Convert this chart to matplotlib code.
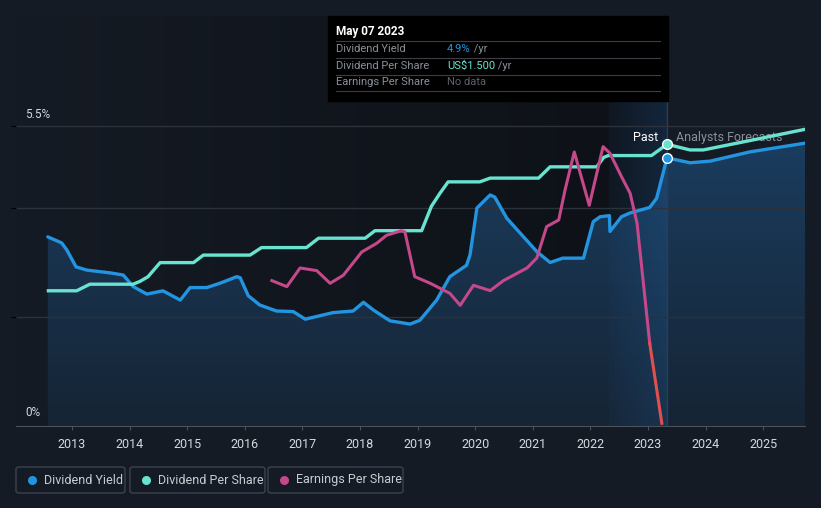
import matplotlib.pyplot as plt
import matplotlib.colors as mcolors
from matplotlib.patches import FancyBboxPatch, Rectangle
import numpy as np

plt.rcParams['font.family'] = ['Roboto', 'DejaVu Sans']

# Dividend yield (%)
dy_year = [2012.58, 2012.82, 2012.91, 2013.07, 2013.26, 2013.66, 2013.89, 2014.06, 2014.30,
           2014.58, 2014.88, 2015.05, 2015.34, 2015.57, 2015.86, 2015.92, 2016.06, 2016.26,
           2016.55, 2016.84, 2016.96, 2017.05, 2017.53, 2017.88, 2018.06, 2018.23, 2018.52,
           2018.87, 2019.04, 2019.33, 2019.56, 2019.85, 2019.91, 2020.03, 2020.26, 2020.34,
           2020.55, 2020.78, 2021.07, 2021.30, 2021.52, 2021.88, 2022.05, 2022.17, 2022.33,
           2022.34, 2022.54, 2022.69, 2023.03, 2023.15, 2023.33, 2023.73, 2024.08, 2024.77,
           2025.73]
dy_val = [3.47, 3.36, 3.23, 2.92, 2.86, 2.81, 2.77, 2.56, 2.42,
          2.48, 2.31, 2.54, 2.54, 2.62, 2.74, 2.72, 2.39, 2.22,
          2.11, 2.10, 2.02, 1.96, 2.08, 2.11, 2.27, 2.13, 1.93,
          1.87, 1.94, 2.31, 2.74, 2.95, 3.14, 4.00, 4.24, 4.20,
          3.81, 3.54, 3.20, 3.00, 3.08, 3.08, 3.75, 3.84, 3.86,
          3.57, 3.84, 3.91, 4.01, 4.18, 4.92, 4.83, 4.86, 5.03,
          5.19]

# Dividend per share (US$)
dps_year = [2012.59, 2013.08, 2013.31, 2014.06, 2014.18, 2014.32, 2014.53, 2015.11, 2015.28,
            2016.09, 2016.29, 2017.07, 2017.28, 2018.09, 2018.26, 2019.07, 2019.24, 2019.39,
            2019.53, 2020.08, 2020.26, 2021.10, 2021.30, 2022.11, 2022.23, 2022.31, 2023.06,
            2023.33, 2023.73, 2023.96, 2024.77, 2025.73]
dps_val = [0.72, 0.72, 0.755, 0.755, 0.77, 0.795, 0.87, 0.87, 0.91,
           0.91, 0.95, 0.95, 1.00, 1.00, 1.04, 1.04, 1.17, 1.24,
           1.30, 1.30, 1.32, 1.32, 1.38, 1.38, 1.43, 1.44, 1.44,
           1.50, 1.47, 1.47, 1.52, 1.58]

# Earnings per share (US$)
eps_year = [2016.47, 2016.73, 2016.96, 2017.25, 2017.48, 2017.71, 2018.03, 2018.29, 2018.46,
            2018.72, 2018.78, 2018.95, 2019.22, 2019.56, 2019.74, 2019.97, 2020.26, 2020.49,
            2020.90, 2021.07, 2021.24, 2021.45, 2021.56, 2021.72, 2021.98, 2022.22, 2022.34,
            2022.54, 2022.69, 2022.81, 2023.03, 2023.24]
eps_val = [0.94, 0.85, 1.13, 1.09, 0.90, 1.02, 1.37, 1.50, 1.62,
           1.69, 1.67, 1.00, 0.90, 0.75, 0.57, 0.87, 0.79, 0.94,
           1.13, 1.28, 1.75, 1.85, 2.30, 2.87, 2.07, 2.95, 2.85,
           2.50, 2.25, 1.80, 0.00, -1.20]

years = list(range(2013, 2026))
now = 2023.33
band_start = 2022.32

BG = '#151b24'
BLUE = '#2394e0'
TEAL = '#68e3cf'
PINK = '#c4488a'
RED = '#e0504f'

fig = plt.figure(figsize=(8.21, 5.08), dpi=100, facecolor=BG)
W, H = 821, 508


def fx(px):
    return px / W


def fy(py):
    return 1 - py / H


ax = fig.add_axes([fx(16), fy(426), fx(805 - 16), (426 - 16) / H])
ax.set_facecolor(BG)
xmin, xmax = 2013 + (16 - 72) / 57.6, 2013 + (805 - 72) / 57.6
ax.set_xlim(xmin, xmax)
ax.set_ylim(0, 410 / 54.5)

# darker past region with horizontal gradient
grad = np.linspace(0, 1, 256).reshape(1, -1)
cmap_past = mcolors.LinearSegmentedColormap.from_list('p', [BG, '#0e1218'])
ax.imshow(grad, extent=[xmin, band_start, 0, 410 / 54.5], aspect='auto', cmap=cmap_past, zorder=0)
ax.axvspan(band_start, now, color='#0f141c', zorder=0)

# fill under dividend yield with vertical gradient
top = max(dy_val)
vgrad = np.linspace(1, 0, 256).reshape(-1, 1)
cmap_fill = mcolors.LinearSegmentedColormap.from_list('f', ['#162434', '#1a3c5e'])
im = ax.imshow(vgrad, extent=[xmin, xmax, 0, top], aspect='auto', cmap=cmap_fill, zorder=1)
poly = ax.fill_between(dy_year, 0, dy_val, color='none', zorder=1)
im.set_clip_path(poly.get_paths()[0], transform=ax.transData)

# highlighted last-year band
cmap_band = mcolors.LinearSegmentedColormap.from_list('b', [(0.15, 0.45, 0.75, 0.04), (0.15, 0.45, 0.75, 0.2)])
ax.imshow(grad, extent=[band_start, now, 0, 410 / 54.5], aspect='auto', cmap=cmap_band, zorder=1.5)

ax.set_yticks([2, 4, 5.5])
ax.yaxis.grid(True, color='#2c323c', lw=1)
ax.set_axisbelow(False)
for gl in ax.get_ygridlines():
    gl.set_zorder(1.6)
ax.tick_params(axis='y', left=False, labelleft=False)
ax.set_xticks(years)
ax.set_xticklabels([str(y) for y in years], color='#d6d9de', fontsize=9)
ax.tick_params(axis='x', length=3, color='#4a515c', pad=6)
for s in ['top', 'right', 'left']:
    ax.spines[s].set_visible(False)
ax.spines['bottom'].set_color('#4a515c')

ax.text(xmin + 0.16, 5.5 + 0.1, '5.5%', color='#d6d9de', fontsize=8.5, va='bottom')
ax.text(xmin + 0.16, 0.12, '0%', color='#d6d9de', fontsize=8.5, va='bottom')

ax.plot(dy_year, dy_val, color=BLUE, lw=2.4, solid_joinstyle='round', solid_capstyle='round', zorder=4)

ax2 = ax.twinx()
ax2.set_ylim(0, 410 * 1.5 / 281.7)
ax2.axis('off')
ax2.plot(dps_year, dps_val, color=TEAL, lw=2.4, solid_joinstyle='round', zorder=4)

ax3 = ax.twinx()
ax3.set_ylim(-82.7 * 0.015, (410 - 82.7) * 0.015)
ax3.axis('off')
pos = [i for i, v in enumerate(eps_val) if v >= 0]
ax3.plot(eps_year[:pos[-1] + 1], eps_val[:pos[-1] + 1], color=PINK, lw=2.2, solid_joinstyle='round', zorder=3)
ax3.plot(eps_year[pos[-1]:], eps_val[pos[-1]:], color=RED, lw=2.2, zorder=3)

# now line and markers
ax.axvline(now, color='#2a3f55', lw=1, zorder=2)
ax2.plot([now], [1.50], 'o', ms=7, color=TEAL, mec='white', mew=1, zorder=6)
ax.plot([now], [4.92], 'o', ms=7, color=BLUE, mec='white', mew=1, zorder=6)
ax.text(now - 0.15, 5.3, 'Past', color='white', fontsize=9, ha='right', va='center', zorder=7)
ax.text(now + 0.15, 5.3, 'Analysts Forecasts', color='#8a9099', fontsize=9, ha='left', va='center', zorder=7)

# tooltip
fig.patches.append(Rectangle((fx(328), fy(101)), fx(668 - 328), (101 - 16) / H,
                             transform=fig.transFigure, color='#000000', zorder=10))
fig.text(fx(336), fy(31), 'May 07 2023', color='white', fontsize=8.5, fontweight='bold', va='center', zorder=11)
for ly in [41, 58, 74.5, 91]:
    fig.add_artist(plt.Line2D([fx(336), fx(660)], [fy(ly), fy(ly)], color='#3a3f47', lw=0.8, zorder=11))
rows = [('Dividend Yield', '4.9%', BLUE, ' /yr', 49.5),
        ('Dividend Per Share', 'US$1.500', TEAL, ' /yr', 66),
        ('Earnings Per Share', 'No data', '#5c6168', '', 82.5)]
for lab, val, col, suf, yy in rows:
    fig.text(fx(336), fy(yy), lab, color='#8a9099', fontsize=8, va='center', zorder=11)
    t = fig.text(fx(447), fy(yy), val, color=col, fontsize=8, va='center', zorder=11)
    if suf:
        fig.canvas.draw()
        bb = t.get_window_extent()
        fig.text(bb.x1 / W, fy(yy), suf, color='#8a9099', fontsize=8, va='center', zorder=11)

# legend boxes
legend = [('Dividend Yield', BLUE, 16, 125), ('Dividend Per Share', TEAL, 130, 265),
          ('Earnings Per Share', PINK, 268, 403)]
for name, col, x0, x1 in legend:
    fig.patches.append(FancyBboxPatch((fx(x0), fy(493)), fx(x1 - x0), 26 / H,
                                      boxstyle='round,pad=0,rounding_size=0.004',
                                      transform=fig.transFigure, fc='none', ec='#3c434e', lw=1))
    fig.add_artist(plt.Line2D([fx(x0 + 16)], [fy(480)], marker='o', ms=6.5, color=col, mew=0))
    fig.text(fx(x0 + 28), fy(480), name, color='#c8ccd2', fontsize=9, va='center')

fig.savefig('out.png', dpi=100, facecolor=BG)
